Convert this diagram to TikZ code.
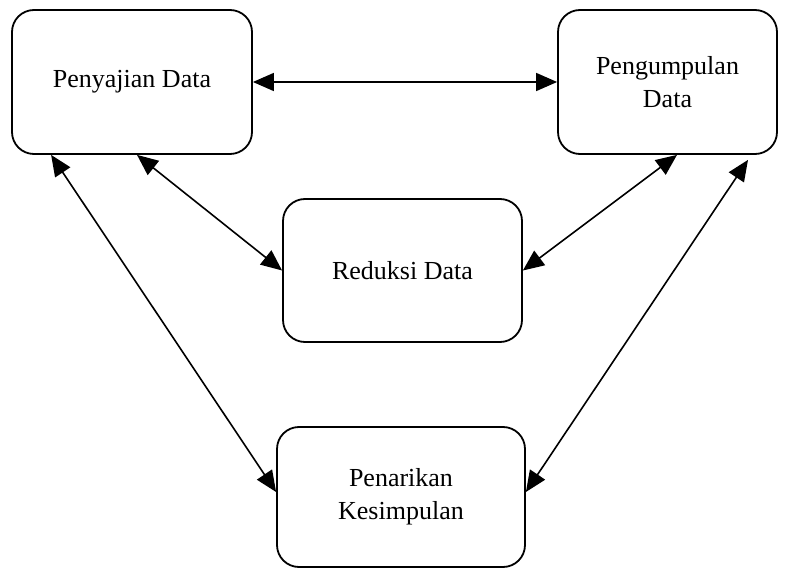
\documentclass[tikz,border=0pt]{standalone}
\usepackage{fontspec}
\setmainfont{Liberation Serif}
\usetikzlibrary{arrows.meta}

\begin{document}
\begin{tikzpicture}[x=1pt, y=-1pt,
    stage/.style={draw, line width=1.8pt, rounded corners=22pt, align=center,
      font=\fontsize{26}{33}\selectfont, inner sep=0pt},
    link/.style={line width=1.6pt, {Triangle[length=21pt,width=18pt]}-{Triangle[length=21pt,width=18pt]}}]
  \useasboundingbox (0,0) rectangle (787,569);
  \node[stage, minimum width=240pt, minimum height=144pt] (pd) at (132,82) {Penyajian Data};
  \node[stage, minimum width=219pt, minimum height=144pt] (pg) at (667.5,82) {Pengumpulan\\Data};
  \node[stage, minimum width=239pt, minimum height=143pt] (rd) at (402.5,270.5) {Reduksi Data};
  \node[stage, minimum width=248pt, minimum height=140pt] (pk) at (401,497) {Penarikan\\Kesimpulan};
  \coordinate (pg-low) at ([xshift=80.5pt, yshift=-5pt]pg.south);
  \draw[link] (pd.east) -- (pg.west);
  \draw[link] ([xshift=5pt]pd.south) -- (rd.west);
  \draw[link] ([xshift=9.5pt]pg.south) -- (rd.east);
  \draw[link] ([xshift=40pt]pd.south west) -- ([yshift=5pt]pk.west);
  \draw[link] (pg-low) -- ([yshift=5pt]pk.east);
\end{tikzpicture}
\end{document}
